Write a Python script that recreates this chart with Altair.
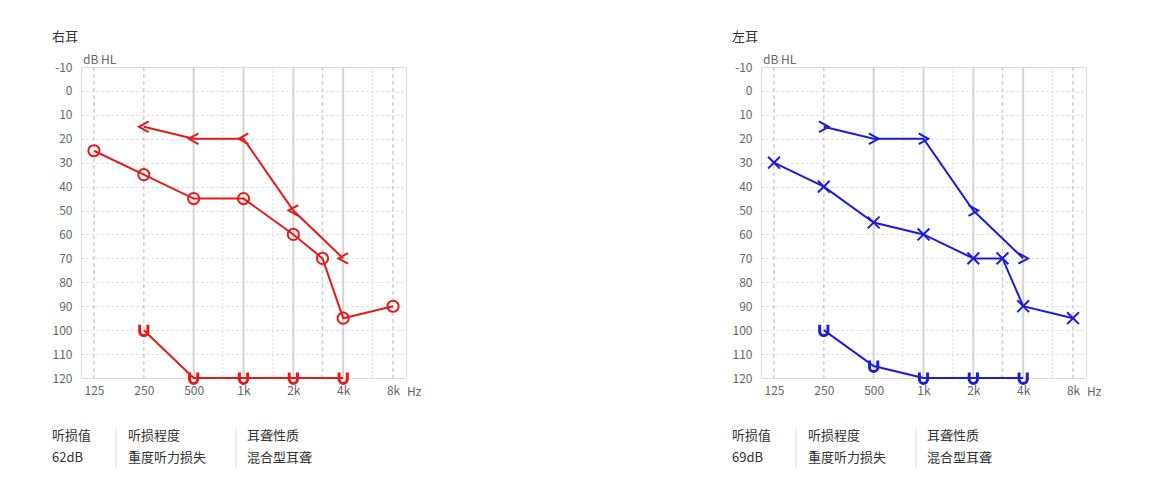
import altair as alt
import pandas as pd

FONT = "Noto Sans CJK SC"

# ---- data ----
tick_labels = ["125", "250", "500", "1k", "2k", "4k", "8k"]
y_ticks = [-10, 0, 10, 20, 30, 40, 50, 60, 70, 80, 90, 100, 110, 120]

ac_freqs = [125, 250, 500, 1000, 2000, 3000, 4000, 8000]
right_ac = [25, 35, 45, 45, 60, 70, 95, 90]
left_ac = [30, 40, 55, 60, 70, 70, 90, 95]

bc_freqs = [250, 500, 1000, 2000, 4000]
right_bc = [15, 20, 20, 50, 70]
left_bc = [15, 20, 20, 50, 70]

u_freqs = [250, 500, 1000, 2000, 4000]
right_u = [100, 120, 120, 120, 120]
left_u = [100, 115, 120, 120, 120]

solid_grid = [500, 1000, 2000, 4000]
dashed_grid = [125, 250, 3000, 8000]
dotted_grid = [750, 1500, 6000]

info_labels = ["听损值", "听损程度", "耳聋性质"]
right_info = ["62dB", "重度听力损失", "混合型耳聋"]
left_info = ["69dB", "重度听力损失", "混合型耳聋"]

RED = "#e31b1b"
BLUE = "#1c1cd8"

OCT = "log(datum.f/125)/LN2"
label_expr = "[" + ",".join("'%s'" % t for t in tick_labels) + "][datum.value]"

XSCALE = alt.Scale(domain=[-0.26, 6.26], nice=False, zero=False)
YSCALE = alt.Scale(domain=[-10, 120], reverse=True, nice=False, zero=False)

XAXIS = alt.Axis(values=list(range(7)), labelExpr=label_expr, grid=False, ticks=False,
                 domain=False, labelPadding=7, labelColor="#666", labelFontSize=12,
                 labelFont=FONT, title=None)
YAXIS = alt.Axis(values=y_ticks, labelExpr="'' + datum.value", grid=True, gridDash=[2, 3],
                 gridColor="#d6d6d6", ticks=False, domain=False, labelPadding=9,
                 labelColor="#666", labelFontSize=12, labelFont=FONT, title=None)

PATH_X = "M-1,-1L1,1M-1,1L1,-1"
PATH_LT = "M0.9,-1L-0.9,0L0.9,1"
PATH_GT = "M-0.9,-1L0.9,0L-0.9,1"
PATH_U = "M-0.75,-1L-0.75,0.25A0.75,0.75 0 0 0 0.75,0.25L0.75,-1"

ONE = alt.Data(values=[{"a": 1}])


def X():
    return alt.X("o:Q", scale=XSCALE, axis=XAXIS)


def Y():
    return alt.Y("db:Q", scale=YSCALE, axis=YAXIS)


def series(freqs, vals, color, shape, size, sw):
    df = pd.DataFrame({"f": freqs, "db": vals})
    base = alt.Chart(df).transform_calculate(o=OCT)
    line = base.mark_line(color=color, strokeWidth=2).encode(x=X(), y=Y())
    pts = base.mark_point(shape=shape, size=size, filled=False, stroke=color,
                          strokeWidth=sw, opacity=1).encode(x=X(), y=Y())
    return [line, pts]


def text(t, x, y, size=13, color="#333", align="left"):
    return alt.Chart(ONE).mark_text(text=t, x=x, y=y, align=align, baseline="middle",
                                    font=FONT, fontSize=size, color=color)


def panel(title, color, ac, bc, u, ac_shape, ac_size, bc_shape, info):
    ybase = alt.Chart(pd.DataFrame({"db": y_ticks, "o": [0] * len(y_ticks)})).mark_point(
        opacity=0).encode(x=X(), y=Y())

    def vgrid(freqs, col, sw, dash):
        return alt.Chart(pd.DataFrame({"f": freqs})).transform_calculate(o=OCT).mark_rule(
            color=col, strokeWidth=sw, strokeDash=dash).encode(x=X())

    layers = [
        ybase,
        vgrid(dotted_grid, "#dcdcdc", 1, [2, 2]),
        vgrid(dashed_grid, "#cfcfcf", 1.5, [4, 3]),
        vgrid(solid_grid, "#d4d4d4", 2, [1, 0]),
    ]
    layers += series(u_freqs, u, color, PATH_U, 120, 3)
    layers += series(bc_freqs, bc, color, bc_shape, 115, 2)
    layers += series(ac_freqs, ac, color, ac_shape, ac_size, 2)

    layers += [
        text(title, -29, -30, 13, "#333"),
        text("dB HL", 2, -7, 12, "#666"),
        text("Hz", 326, 325, 12, "#666"),
    ]
    xs = [-29, 47, 166]
    for i in range(3):
        layers.append(text(info_labels[i], xs[i], 369))
        layers.append(text(info[i], xs[i], 391))
    for sx in [35, 155]:
        layers.append(alt.Chart(ONE).mark_rule(color="#dddddd", strokeWidth=1).encode(
            x=alt.value(sx), y=alt.value(361), y2=alt.value(403)))

    return alt.layer(*layers).properties(width=325, height=311)


left = panel("右耳", RED, right_ac, right_bc, right_u, "circle", 125, PATH_LT, right_info)
right = panel("左耳", BLUE, left_ac, left_bc, left_u, PATH_X, 140, PATH_GT, left_info)

chart = alt.hconcat(left, right, spacing=355, bounds="flush").properties(
    padding={"left": 43, "top": 22, "right": 5, "bottom": 5}
).configure_view(stroke="#e3e3e3").configure(font=FONT)

chart.save("out.html", embed_options={"renderer": "svg", "actions": False})
